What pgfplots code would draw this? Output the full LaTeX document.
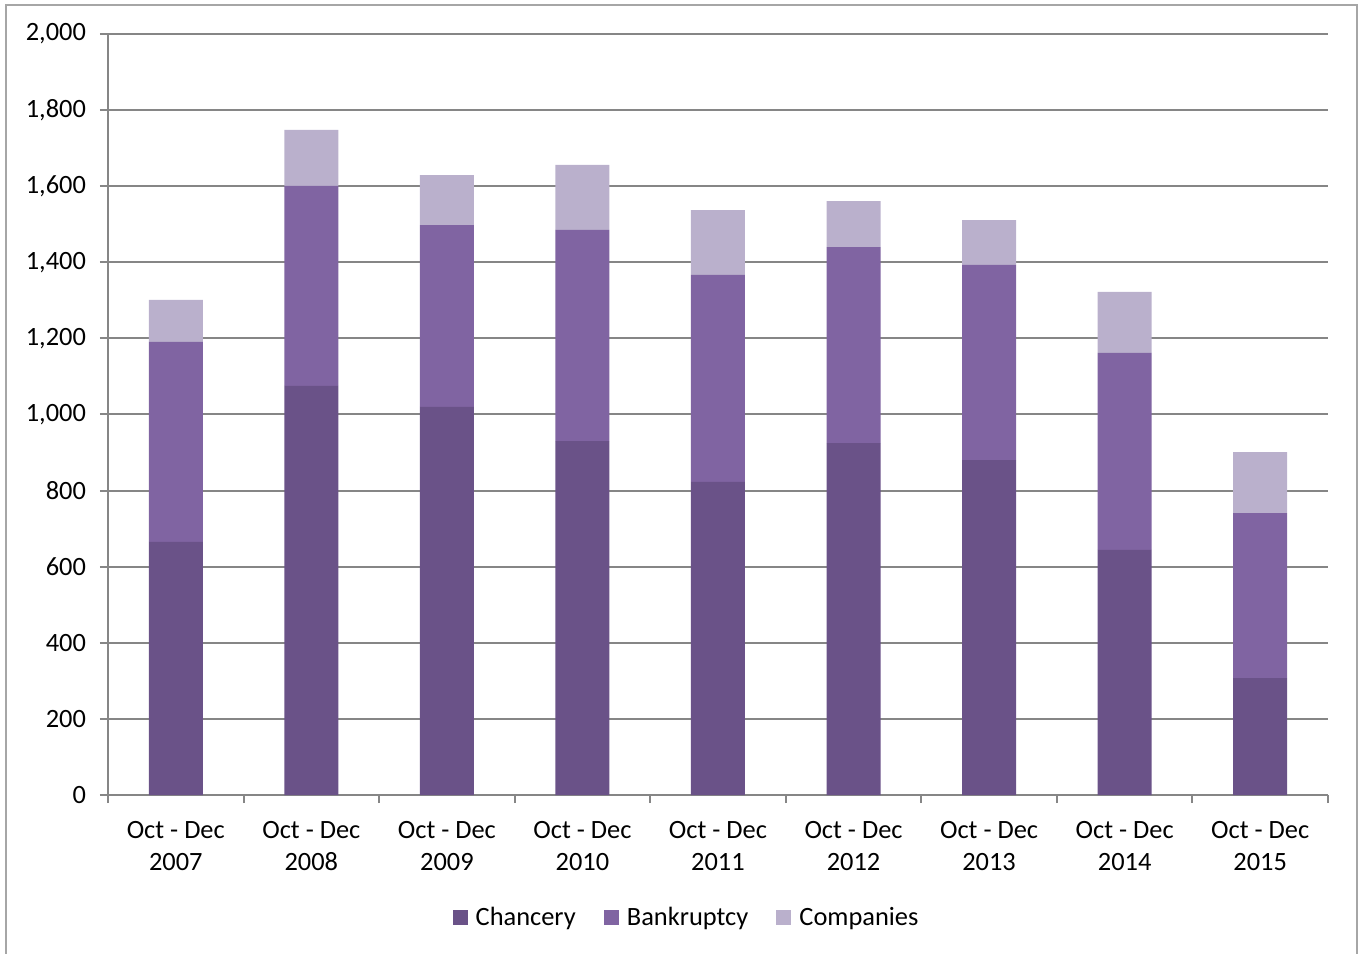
\documentclass[border=0pt]{standalone}
\usepackage{pgfplots}
\pgfplotsset{compat=1.18}
\usepackage{fontspec}
\setmainfont{Carlito}
\definecolor{chan}{HTML}{6A5288}
\definecolor{bank}{HTML}{8064A2}
\definecolor{comp}{HTML}{BAB0CC}
\definecolor{gridc}{HTML}{868686}
\begin{document}
\begin{tikzpicture}
\begin{axis}[
  at={(0,0)}, anchor=south west,
  scale only axis, width=610pt, height=380.5pt,
  ybar stacked, bar width=27pt,
  xmin=-0.5, xmax=8.5, ymin=0, ymax=2000,
  ytick={0,200,...,2000},
  xtick={0,...,8},
  xticklabels={{Oct - Dec\\2007},{Oct - Dec\\2008},{Oct - Dec\\2009},{Oct - Dec\\2010},{Oct - Dec\\2011},{Oct - Dec\\2012},{Oct - Dec\\2013},{Oct - Dec\\2014},{Oct - Dec\\2015}},
  minor xtick={-0.5,0.5,...,8.5},
  major x tick style={draw=none},
  minor tick length=4pt, major tick length=4pt,
  tick align=outside,
  axis x line*=bottom, axis y line*=left,
  axis line style={gridc, line width=1pt},
  tick style={gridc, line width=1pt},
  ymajorgrids, grid style={gridc, line width=1pt},
  /pgf/number format/assume math mode=true,
  /pgf/number format/1000 sep={,},
  /pgf/number format/fixed, /pgf/number format/precision=0,
  ticklabel style={font=\fontsize{13.2pt}{16pt}\selectfont},
  xticklabel style={align=center, yshift=-5.5pt},
  yticklabel style={xshift=-3.5pt},
  legend style={at={(0.475,-0.1616)}, anchor=center, draw=none, legend columns=3,
    font=\fontsize{13.2pt}{15pt}\selectfont,
    /tikz/every odd column/.append style={column sep=2pt},
    /tikz/every even column/.append style={column sep=12pt}},
  legend image code/.code={\fill[#1] (0pt,-3.6pt) rectangle (7.6pt,4pt);},
  every axis plot/.append style={draw=none},
]
\addplot[fill=chan] coordinates {(0,665) (1,1075) (2,1020) (3,930) (4,823) (5,925) (6,880) (7,644) (8,307)};
\addplot[fill=bank] coordinates {(0,526) (1,526) (2,478) (3,555) (4,544) (5,515) (6,513) (7,518) (8,434)};
\addplot[fill=comp] coordinates {(0,110) (1,147) (2,131) (3,171) (4,170) (5,121) (6,118) (7,160) (8,160)};
\legend{Chancery, Bankruptcy, Companies}
\end{axis}
\draw[gray!70, line width=1pt] (-51pt,-90pt) rectangle (624.5pt,395pt);
\pgfresetboundingbox
\path (-54pt,-79.5pt) rectangle (627pt,397.5pt);
\end{tikzpicture}
\end{document}
